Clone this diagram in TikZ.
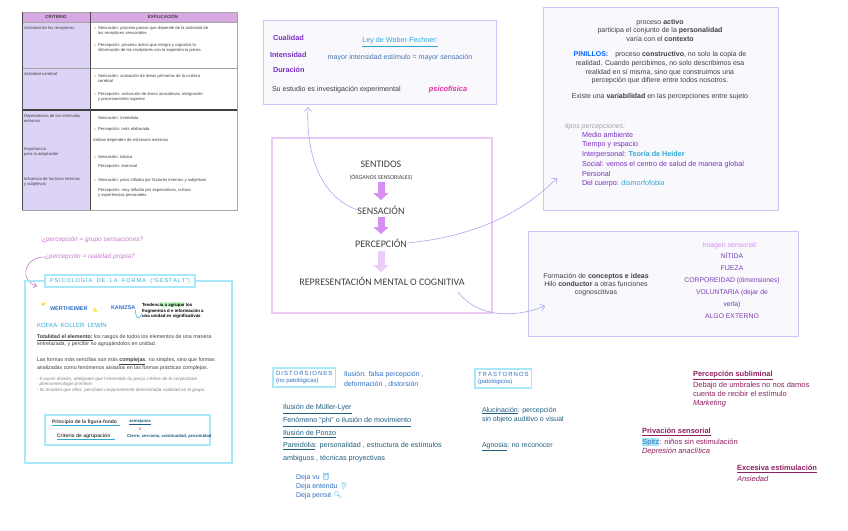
\documentclass[tikz,border=0pt]{standalone}
\usepackage{fontspec}
\setmainfont{Liberation Sans}
\newfontfamily\calfont{Carlito}
\newfontfamily\emofont{Noto Emoji}
\usetikzlibrary{arrows.meta}
\definecolor{lavline}{HTML}{C8C8F6}
\definecolor{boxfill}{HTML}{F8F8FD}
\definecolor{pinkline}{HTML}{EDC9F6}
\definecolor{arrowc}{HTML}{D68FF0}
\definecolor{arrowl}{HTML}{E9CDF6}
\definecolor{connc}{HTML}{A8A8F2}
\definecolor{purp}{HTML}{7A2FC0}
\definecolor{cyant}{HTML}{2FA8D8}
\definecolor{cyanb}{HTML}{A8E8F8}
\definecolor{bluet}{HTML}{3070C0}
\definecolor{darkt}{HTML}{404040}
\definecolor{magt}{HTML}{E030A0}
\definecolor{maroon}{HTML}{902060}
\definecolor{hdr}{HTML}{D7A8E2}
\definecolor{lcol}{HTML}{DDD3F7}
\definecolor{hand}{HTML}{C47CC8}
\definecolor{teal}{HTML}{205E80}
\begin{document}
\begin{tikzpicture}[x=1pt,y=-1pt,
  every node/.style={inner sep=0pt,outer sep=0pt},
  tiny/.style={font=\fontsize{4.2}{5.2}\selectfont,text=darkt,anchor=north west,align=left},
  lbox/.style={draw=lavline,line width=1pt,fill=boxfill},
  cbox/.style={draw=cyanb,line width=1.2pt},
  cen/.style={font=\calfont\fontsize{10}{11}\selectfont,text=darkt},
  fat/.style={line width=7pt,-{Triangle[length=7pt,width=15pt]}},
  conn/.style={draw=connc,line width=0.6pt,-{Straight Barb[length=4pt,width=7pt]}},
  pl/.style={font=\fontsize{7.3}{8}\selectfont\bfseries,text=purp,anchor=west},
  bl/.style={font=\fontsize{7}{8}\selectfont,text=bluet,anchor=west},
  tl/.style={font=\fontsize{7.2}{8}\selectfont,text=teal,anchor=west},
  mr/.style={font=\fontsize{7.5}{9}\selectfont,text=maroon,anchor=west,align=left}]
\useasboundingbox (0,0) rectangle (848,530);
\fill[white] (0,0) rectangle (848,530);

% ---------------- table ----------------
\fill[hdr] (22,12) rectangle (237,22);
\fill[lcol] (22,22) rectangle (90,210);
\draw[gray!70,line width=0.6pt] (22,12) rectangle (237,210);
\draw[gray!70,line width=0.6pt] (22,22) -- (237,22) (22,68) -- (237,68);
\draw[black!75,line width=1.1pt] (22,110) -- (237,110);
\draw[black!70,line width=0.9pt] (90,12) -- (90,210) (22,12) -- (22,210);
\node[font=\fontsize{4.4}{5}\selectfont\bfseries,text=darkt] (hc) at (56,17) {CRITERIO};
\node[font=\fontsize{4.4}{5}\selectfont\bfseries,text=darkt] (he) at (163,17) {EXPLICACIÓN};
\node[tiny] (t1) at (24,26) {Actividad de los receptores};
\node[tiny] (t2) at (24,72) {Actividad cerebral};
\node[tiny] (t3) at (24,114) {Dependencia de los estímulos\\externos};
\node[tiny] (t4) at (24,147) {Importancia\\para la adaptación};
\node[tiny] (t5) at (24,177) {Influencia de factores internos\\y subjetivos};
\node[tiny] (r1) at (98,26) {Sensación: proceso pasivo que depende de la actividad de\\los receptores sensoriales};
\node[tiny] (r2) at (98,43) {Percepción: proceso activo que integra y organiza la\\información de los receptores con la experiencia previa};
\node[tiny] (r3) at (98,74) {Sensación: activación de áreas primarias de la corteza\\cerebral};
\node[tiny] (r4) at (98,92) {Percepción: activación de áreas asociativas, integración\\y procesamiento superior};
\node[tiny] (r5) at (98,116) {Sensación: inmediata};
\node[tiny] (r6) at (98,127) {Percepción: más elaborada};
\node[tiny] (r7) at (93,138) {Ambas dependen de estímulos externos};
\node[tiny] (r8) at (98,155) {Sensación: básica};
\node[tiny] (r9) at (98,164) {Percepción: esencial};
\node[tiny] (r10) at (98,178) {Sensación: poco influida por factores internos y subjetivos};
\node[tiny] (r11) at (98,188) {Percepción: muy influida por expectativas, cultura\\y experiencias personales};
\foreach \yy in {28,45,76,94,129,157,180}{\fill[darkt] (95,\yy) circle (0.5pt);}

% ---------------- left middle ----------------
\node[font=\fontsize{6.5}{8}\selectfont\itshape,text=hand,anchor=west] (q1) at (42,240) {¿percepción = grupo sensaciones?};
\node[font=\fontsize{6.5}{8}\selectfont\itshape,text=hand,anchor=west] (q2) at (45,257) {¿percepción = realidad propia?};
\coordinate (qa) at (37,286);
\draw[draw=hand,line width=0.6pt,-{Straight Barb[length=3pt,width=5pt]}] (q2.west) .. controls (22,257) and (20,282) .. (qa);

\draw[cbox] (25,281) rectangle (232,463);
\node[draw=cyanb,line width=1.5pt,fill=white,inner xsep=5pt,inner ysep=3pt,font=\fontsize{5.5}{6}\selectfont,text=cyant] (gest) at (120,281) {P\,S\,I\,C\,O\,L\,O\,G\,Í\,A \; D\,E \; L\,A \; F\,O\,R\,M\,A \; (\,``G\,E\,S\,T\,A\,L\,T\,'')};
\fill[yellow!80!orange] (41,304) -- (45,302) -- (44,306) -- cycle;
\node[font=\fontsize{5.5}{6}\selectfont\bfseries,text=bluet,anchor=west] (wert) at (50,309) {WERTHEIMER};
\node[font=\fontsize{6}{6}\selectfont\bfseries,text=yellow!80!orange,anchor=west] (amp) at (93,310) {\&};
\node[font=\fontsize{5.5}{6}\selectfont\bfseries,text=bluet,anchor=west] (kan) at (111,308) {KANIZSA};
\fill[green!25] (161,302) rectangle (184,307);
\node[font=\fontsize{4.4}{5.2}\selectfont\bfseries,anchor=west,align=left] (tend) at (142,311) {Tendencia a agrupar los\\fragmentos d e información a\\una unidad es significativas};
\draw[cyant,line width=0.5pt] (kan.south east) .. controls (136,322) and (140,318) .. (142,314);
\node[font=\fontsize{6}{6}\selectfont,text=cyant,anchor=west] (kkl) at (37,325) {KOFKA\; KOLLER\; LEWIN};
\node[font=\fontsize{5.3}{6.6}\selectfont,text=darkt,anchor=north west,align=left] (tot) at (37,335) {\underline{\textbf{Totalidad el elemento:}} los rasgos de todos los elementos de una manera\\entrelazada, y percibir no agrupándolos en unidad.};
\node[font=\fontsize{5.3}{6.6}\selectfont,text=darkt,anchor=north west,align=left] (las) at (37,358) {Las formas más sencillas son más \underline{\textbf{complejas}}. no simples, sino que formas\\analizadas como fenómenos aislados en las formas prácticas complejas.};
\node[font=\fontsize{4.6}{5.4}\selectfont\itshape,text=gray,anchor=north west,align=left] (small) at (37,377) {- Il savoir divisée, atteignant que l'ensemble du perçu s'élève de la conjoncture\\\ \ phénoménologie primitive.\\- Ils tenaient que ellos, percibían conjuntamente determinada cualidad en el grupo.};
\draw[cbox] (45,415) rectangle (210,445);
\node[font=\fontsize{5}{5.6}\selectfont\bfseries,text=darkt,anchor=west] (pff) at (52,422) {Principio de la figura-fondo};
\draw[cyant,line width=0.5pt] (52,425.5) -- (120,425.5);
\node[font=\fontsize{5}{5.6}\selectfont\bfseries,text=darkt,anchor=west] (cda) at (57,436) {Criterio de agrupación};
\draw[cyant,line width=0.5pt] (57,439.5) -- (115,439.5);
\node[font=\fontsize{4.3}{5}\selectfont\bfseries,text=teal,anchor=west] (sem) at (129,422) {\underline{semejanza}};
\node[font=\fontsize{5}{5}\selectfont,text=red!70!blue,anchor=center] (xx) at (140,429) {$\times$};
\node[font=\fontsize{4.3}{5}\selectfont\bfseries,text=teal,anchor=west] (cie) at (127,436) {Cierre, cercanía, continuidad, proximidad};

% ---------------- top middle box ----------------
\draw[lbox] (263,20) rectangle (496,104);
\node[pl] (cual) at (273,38) {Cualidad};
\node[pl] (inte) at (270,55) {Intensidad};
\node[pl] (dura) at (273,70) {Duración};
\node[font=\fontsize{7.2}{8}\selectfont,text=cyant] (ley) at (400,42) {\underline{Ley de Weber-Fechner:}};
\node[font=\fontsize{7.1}{8}\selectfont,text=bluet!70!gray] (may) at (400,58) {mayor intensidad estímulo = mayor sensación};
\node[font=\fontsize{7.1}{8}\selectfont,text=darkt,anchor=west] (sue) at (272,90) {Su estudio es investigación experimental};
\node[font=\fontsize{7.4}{8}\selectfont\bfseries\itshape,text=magt] (psi) at (448,90) {psicofísica};

% ---------------- centre box ----------------
\draw[draw=pinkline,line width=2pt] (272,138) rectangle (492,313);
\node[cen] (sent) at (381,164) {SENTIDOS};
\node[font=\calfont\fontsize{6}{7}\selectfont,text=darkt] (org) at (381,177) {(ÓRGANOS SENSORIALES)};
\node[cen] (sens) at (381,210) {SENSACIÓN};
\node[cen] (perc) at (381,243) {PERCEPCIÓN};
\node[cen] (repr) at (382,281) {REPRESENTACIÓN MENTAL O COGNITIVA};
\draw[fat,draw=arrowc,fill=arrowc] (381,182) -- (381,200);
\draw[fat,draw=arrowc,fill=arrowc] (381,217) -- (381,234);
\draw[fat,draw=arrowl,fill=arrowl] (381,251) -- (381,272);

% ---------------- top right box ----------------
\draw[lbox] (543,7) rectangle (778,210);
\node[font=\fontsize{7}{8.5}\selectfont,text=darkt,align=center] (act) at (660,30) {proceso \textbf{activo}\\participa el conjunto de la \textbf{personalidad}\\varía con el \textbf{contexto}};
\node[font=\fontsize{7}{8.6}\selectfont,text=darkt,align=center] (pin) at (660,68) {{\color{blue!60!cyan}\textbf{PINILLOS:}}\quad proceso \textbf{constructivo}, no solo la copia de\\realidad. Cuando percibimos, no solo describimos esa\\realidad en sí misma, sino que construimos una\\percepción que difiere entre todos nosotros.};
\node[font=\fontsize{7}{8}\selectfont,text=darkt] (var) at (660,97) {Existe una \textbf{variabilidad} en las percepciones entre sujeto};
\node[font=\fontsize{7}{8}\selectfont\itshape,text=gray!70,anchor=west] (tip) at (565,127) {tipos percepciones:};
\node[font=\fontsize{7.2}{9.7}\selectfont,text=purp,anchor=north west,align=left] (lst) at (582,132) {Medio ambiente\\Tiempo y espacio\\Interpersonal: {\color{cyant}\textbf{Teoría de Heider}}\\Social: vemos el centro de salud de manera global\\Personal\\Del cuerpo: {\color{cyant}dismorfofobia}};

% ---------------- right middle box ----------------
\draw[lbox] (528,231) rectangle (798,336);
\node[font=\fontsize{7}{8}\selectfont,text=darkt,align=center] (form) at (596,285) {Formación de \textbf{conceptos e ideas}\\Hilo \textbf{conductor} a otras funciones\\cognoscitivas};
\node[font=\fontsize{7}{8}\selectfont,text=arrowc] (img) at (730,246) {Imagen sensorial:};
\node[font=\fontsize{6.8}{12}\selectfont,text=purp!80!gray,align=center,anchor=north] (nit) at (732,253) {NÍTIDA\\FIJEZA\\CORPOREIDAD (dimensiones)\\VOLUNTARIA (dejar de\\verla)\\ALGO EXTERNO};

% ---------------- connectors ----------------
\coordinate (e1) at (308,107);
\coordinate (e2) at (557,178);
\coordinate (s3) at (458,292);
\coordinate (e3) at (545,306);
\draw[conn] (sens.west) .. controls (318,196) and (306,150) .. (e1);
\draw[conn] (perc.east) .. controls (480,236) and (525,210) .. (e2);
\draw[conn] (s3) .. controls (478,318) and (515,318) .. (e3);

% ---------------- bottom middle ----------------
\node[cbox,inner xsep=3pt,inner ysep=3pt,font=\fontsize{6}{7.5}\selectfont,text=bluet,align=left,anchor=north west] (dist) at (273,368) {D\,I\,S\,T\,O\,R\,S\,I\,O\,N\,E\,S\\(no patológicas)};
\node[bl,anchor=north west,align=left,font=\fontsize{7}{10}\selectfont] (ilu) at (344,371) {Ilusión: falsa percepción ,\\deformación , distorsión};
\node[cbox,inner xsep=3pt,inner ysep=3pt,font=\fontsize{6}{7.5}\selectfont,text=bluet,align=left,anchor=north west] (tras) at (475,369) {T\,R\,A\,S\,T\,O\,R\,N\,O\,S\\(patológicos)};
\node[tl] (ml) at (283,409) {\underline{Ilusión de Müller-Lyer}};
\node[tl] (phi) at (283,422) {\underline{Fenómeno ``phi'' o ilusión de movimiento}};
\node[tl] (pon) at (283,434) {\underline{Ilusión de Ponzo}};
\node[tl] (par) at (283,446) {\underline{Pareidolia}: personalidad , estructura de estímulos};
\node[tl] (amb) at (283,459) {ambiguos , técnicas proyectivas};
\node[bl] (dv) at (296,477) {Deja vu {\emofont\color{cyant}⏰}};
\node[bl] (de) at (296,486) {Deja entendu {\emofont\color{cyant}👂}};
\node[bl] (dp) at (296,495) {Deja pensé {\emofont\color{cyant}🔍}};
\node[tl,anchor=north west,align=left,font=\fontsize{7}{9.5}\selectfont] (alu) at (482,407) {\underline{Alucinación}: percepción\\sin objeto auditivo o visual};
\node[tl,font=\fontsize{7}{8}\selectfont] (agn) at (482,447) {\underline{Agnosia}: no reconocer};

% ---------------- bottom right ----------------
\node[mr,anchor=north west] (sub) at (693,371) {\underline{\textbf{Percepción subliminal}}\\[1.5pt]Debajo de umbrales no nos damos\\cuenta de recibir el estímulo\\\textit{Marketing}};
\node[mr,anchor=north west] (pri) at (642,428) {\underline{\textbf{Privación sensorial}}\\[1.5pt]{\setlength\fboxsep{0.4pt}\colorbox{cyanb}{\color{bluet}Spitz}}: niños sin estimulación\\\textit{Depresión anaclítica}};
\node[mr,anchor=north west] (exc) at (737,465) {\underline{\textbf{Excesiva estimulación}}\\[1.5pt]\textit{Ansiedad}};
\end{tikzpicture}
\end{document}
